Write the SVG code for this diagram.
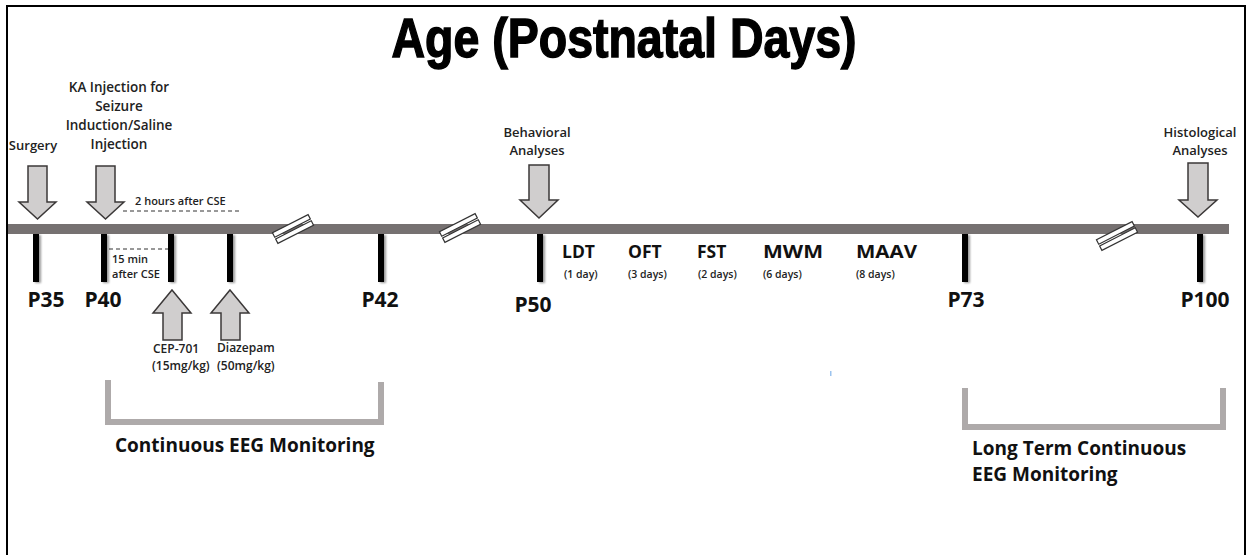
<svg xmlns="http://www.w3.org/2000/svg" width="1251" height="555" viewBox="0 0 1251 555">
<style>
.t{font-family:"Open Sans","Noto Sans",sans-serif;font-weight:600;fill:#222}
.b{font-family:"Open Sans","Noto Sans",sans-serif;font-weight:700;fill:#111}
.arr{fill:#d0cece;stroke:#3b3838;stroke-width:1.5;stroke-linejoin:miter}
.tick{fill:#000}
.brk{fill:#fff;stroke:#333;stroke-width:1.2}
.br{fill:none;stroke:#aeaaaa;stroke-width:6}
.dash{stroke:#333;stroke-width:1;stroke-dasharray:4 3;fill:none}
</style>
<defs>
<filter id="sh" x="-50%" y="-10%" width="250%" height="130%">
<feGaussianBlur in="SourceAlpha" stdDeviation="1.2"/>
<feOffset dx="2" dy="1" result="o"/>
<feComponentTransfer><feFuncA type="linear" slope="0.4"/></feComponentTransfer>
<feMerge><feMergeNode/><feMergeNode in="SourceGraphic"/></feMerge>
</filter>
</defs>
<rect x="0" y="0" width="1251" height="555" fill="#fff"/>
<rect x="7" y="6" width="1238" height="560" fill="none" stroke="#000" stroke-width="2"/>
<text transform="translate(624,57) scale(1,1.18)" text-anchor="middle" font-family="Liberation Sans, Arial, sans-serif" font-weight="bold" font-size="46.5" fill="#000" stroke="#000" stroke-width="1.2">Age (Postnatal Days)</text>

<g id="connectors">
<rect x="8" y="224" width="1221" height="10" fill="#767171"/>
<path class="dash" d="M123,211 H240"/>
<path class="dash" d="M109,249 H170"/>
</g>

<g id="breaks">
<g transform="translate(293,229) rotate(-27)"><rect class="brk" x="-20" y="-6" width="40" height="5"/><rect class="brk" x="-20" y="1" width="40" height="5"/></g>
<g transform="translate(460,228) rotate(-27)"><rect class="brk" x="-20" y="-6" width="40" height="5"/><rect class="brk" x="-20" y="1" width="40" height="5"/></g>
<g transform="translate(1117,236) rotate(-27)"><rect class="brk" x="-20" y="-6" width="40" height="5"/><rect class="brk" x="-20" y="1" width="40" height="5"/></g>
</g>

<g id="p35">
<rect class="tick" filter="url(#sh)" x="33" y="234" width="6" height="48"/>
<text class="b" x="46" y="307" font-size="21" text-anchor="middle">P35</text>
</g>
<g id="p40">
<rect class="tick" filter="url(#sh)" x="101" y="234" width="6" height="48"/>
<text class="b" x="103" y="307" font-size="21" text-anchor="middle">P40</text>
</g>
<g id="tick15">
<rect class="tick" filter="url(#sh)" x="168" y="234" width="6" height="48"/>
</g>
<g id="tick2h">
<rect class="tick" filter="url(#sh)" x="227" y="234" width="6" height="48"/>
</g>
<g id="p42">
<rect class="tick" filter="url(#sh)" x="378" y="234" width="6" height="48"/>
<text class="b" x="380" y="307" font-size="21" text-anchor="middle">P42</text>
</g>
<g id="p50">
<rect class="tick" filter="url(#sh)" x="537" y="234" width="6" height="48"/>
<text class="b" x="533" y="312" font-size="21" text-anchor="middle">P50</text>
</g>
<g id="p73">
<rect class="tick" filter="url(#sh)" x="962" y="234" width="6" height="48"/>
<text class="b" x="966" y="307" font-size="21" text-anchor="middle">P73</text>
</g>
<g id="p100">
<rect class="tick" filter="url(#sh)" x="1197" y="234" width="6" height="48"/>
<text class="b" x="1205" y="307" font-size="21" text-anchor="middle">P100</text>
</g>

<g id="surgery">
<text class="t" x="33" y="150" font-size="13" text-anchor="middle">Surgery</text>
<path class="arr" d="M28,166 H47 V202 H56 L37.5,219 L19,202 H28 Z"/>
</g>
<g id="ka">
<text class="t" font-size="13.5" text-anchor="middle"><tspan x="119" y="92">KA Injection for</tspan><tspan x="119" y="111">Seizure</tspan><tspan x="119" y="130">Induction/Saline</tspan><tspan x="119" y="149">Injection</tspan></text>
<path class="arr" d="M96,166 H115 V202 H124 L105.5,219 L87,202 H96 Z"/>
</g>
<g id="cse2h"><text class="t" x="135" y="205" font-size="11">2 hours after CSE</text></g>
<g id="cse15"><text class="t" font-size="11"><tspan x="112" y="263">15 min</tspan><tspan x="112" y="278">after CSE</tspan></text></g>

<g id="cep">
<path class="arr" d="M172,290 L191,313 H182 V340 H163 V313 H153 Z"/>
<text class="t" font-size="12"><tspan x="153" y="353">CEP-701</tspan><tspan x="152" y="370">(15mg/kg)</tspan></text>
</g>
<g id="diazepam">
<path class="arr" d="M230,290 L249,313 H240 V340 H221 V313 H211 Z"/>
<text class="t" font-size="12"><tspan x="217" y="352">Diazepam</tspan><tspan x="217" y="370">(50mg/kg)</tspan></text>
</g>

<g id="behavioral">
<text class="t" font-size="13" text-anchor="middle"><tspan x="537" y="137">Behavioral</tspan><tspan x="537" y="155">Analyses</tspan></text>
<path class="arr" d="M529,165 H549 V200 H558 L539,218 L520,200 H529 Z"/>
</g>
<g id="histological">
<text class="t" font-size="13" text-anchor="middle"><tspan x="1200" y="137">Histological</tspan><tspan x="1200" y="155">Analyses</tspan></text>
<path class="arr" d="M1188,163 H1208 V200 H1217 L1198,217 L1179,200 H1188 Z"/>
</g>

<g id="tests">
<text class="b" x="562" y="258" font-size="17.5">LDT</text>
<text class="t" x="564" y="278" font-size="10.5">(1 day)</text>
<text class="b" x="628" y="258" font-size="17.5">OFT</text>
<text class="t" x="628" y="278" font-size="10.5">(3 days)</text>
<text class="b" x="697" y="258" font-size="17.5">FST</text>
<text class="t" x="698" y="278" font-size="10.5">(2 days)</text>
<text class="b" x="763" y="258" font-size="17.5" textLength="60" lengthAdjust="spacingAndGlyphs">MWM</text>
<text class="t" x="763" y="278" font-size="10.5">(6 days)</text>
<text class="b" x="856" y="258" font-size="17.5" textLength="61" lengthAdjust="spacingAndGlyphs">MAAV</text>
<text class="t" x="856" y="278" font-size="10.5">(8 days)</text>
</g>

<g id="eeg1">
<path class="br" d="M108,380 V422 H381 V382"/>
<text class="b" x="115" y="452" font-size="19" fill="#222">Continuous EEG Monitoring</text>
</g>
<g id="eeg2">
<path class="br" d="M965,388 V427 H1223 V388"/>
<text class="b" font-size="19" fill="#222"><tspan x="972" y="455">Long Term Continuous</tspan><tspan x="972" y="481">EEG Monitoring</tspan></text>
</g>
<rect x="830" y="371" width="1.5" height="5" fill="#9cc3ee"/>
</svg>
